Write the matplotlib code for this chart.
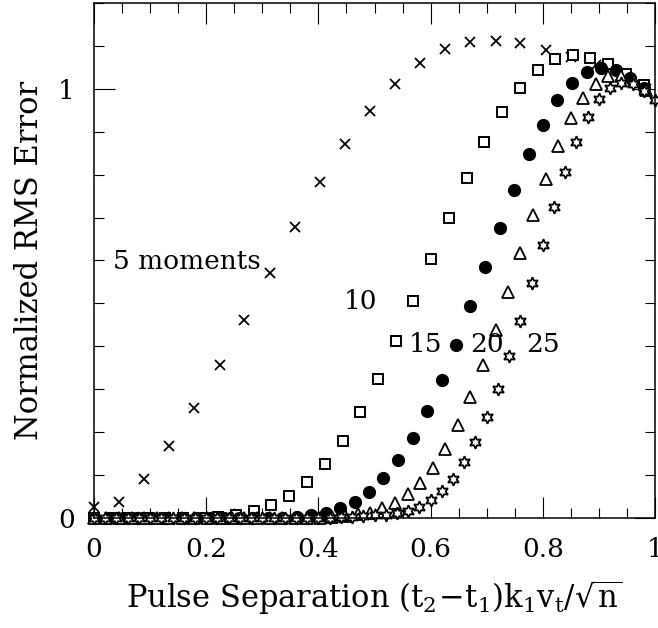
import matplotlib
matplotlib.use("Agg")
import matplotlib.pyplot as plt
from matplotlib.ticker import MultipleLocator

plt.rcParams['font.family'] = ['DejaVu Serif']
plt.rcParams['mathtext.fontset'] = 'dejavuserif'

# ============================
# data
# ============================
# 5 moments (crosses)
x5 = [0.0, 0.045, 0.089, 0.134, 0.179, 0.224, 0.268, 0.313, 0.358, 0.402, 0.447, 0.492,
      0.537, 0.581, 0.626, 0.671, 0.716, 0.760, 0.805, 0.850, 0.894, 0.939, 0.984]
y5 = [0.026, 0.038, 0.091, 0.167, 0.256, 0.356, 0.462, 0.571, 0.678, 0.782, 0.872, 0.949,
      1.012, 1.061, 1.092, 1.108, 1.112, 1.106, 1.090, 1.074, 1.055, 1.030, 1.000]

# 10 moments (open squares)
x10 = [0.0, 0.032, 0.063, 0.095, 0.126, 0.158, 0.190, 0.221, 0.253, 0.285, 0.316, 0.348,
       0.379, 0.411, 0.443, 0.474, 0.506, 0.538, 0.569, 0.601, 0.632, 0.664, 0.696, 0.727,
       0.759, 0.791, 0.822, 0.854, 0.885, 0.917, 0.949, 0.980]
y10 = [0.0, 0.0, 0.0, 0.0, 0.0, 0.0, 0.001, 0.003, 0.006, 0.017, 0.030, 0.052,
       0.084, 0.126, 0.180, 0.247, 0.325, 0.412, 0.506, 0.604, 0.700, 0.792, 0.875, 0.946,
       1.002, 1.044, 1.069, 1.078, 1.073, 1.057, 1.035, 1.009]

# 15 moments (filled circles)
x15 = [0.0, 0.026, 0.052, 0.077, 0.103, 0.129, 0.155, 0.181, 0.207, 0.232, 0.258, 0.284,
       0.310, 0.336, 0.361, 0.387, 0.413, 0.439, 0.465, 0.491, 0.516, 0.542, 0.568, 0.594,
       0.620, 0.646, 0.671, 0.697, 0.723, 0.749, 0.775, 0.800, 0.826, 0.852, 0.878, 0.904,
       0.930, 0.955, 0.981]
y15 = [0.0, 0.0, 0.0, 0.0, 0.0, 0.0, 0.0, 0.0, 0.0, 0.0, 0.0, 0.0,
       0.0, 0.0, 0.003, 0.006, 0.011, 0.023, 0.038, 0.061, 0.093, 0.134, 0.186, 0.250,
       0.322, 0.403, 0.493, 0.584, 0.676, 0.765, 0.848, 0.916, 0.974, 1.013, 1.039, 1.048,
       1.043, 1.026, 1.002]

# 20 moments (open triangles)
x20 = [0.0, 0.022, 0.045, 0.067, 0.089, 0.112, 0.134, 0.157, 0.179, 0.201, 0.224, 0.246,
       0.268, 0.291, 0.313, 0.335, 0.358, 0.380, 0.402, 0.425, 0.447, 0.470, 0.492, 0.514,
       0.537, 0.559, 0.581, 0.604, 0.626, 0.648, 0.671, 0.693, 0.716, 0.738, 0.760, 0.783,
       0.805, 0.827, 0.850, 0.872, 0.894, 0.917, 0.939, 0.962, 0.984]
y20 = [0.0, 0.0, 0.0, 0.0, 0.0, 0.0, 0.0, 0.0, 0.0, 0.0, 0.0, 0.0,
       0.0, 0.0, 0.0, 0.0, 0.0, 0.0, 0.001, 0.003, 0.005, 0.009, 0.012, 0.023,
       0.036, 0.055, 0.081, 0.116, 0.161, 0.216, 0.281, 0.357, 0.439, 0.526, 0.618, 0.707,
       0.790, 0.867, 0.932, 0.979, 1.012, 1.030, 1.030, 1.018, 0.997]

# 25 moments (open six-point stars)
x25 = [0.0, 0.02, 0.04, 0.06, 0.08, 0.10, 0.12, 0.14, 0.16, 0.18, 0.20, 0.22,
       0.24, 0.26, 0.28, 0.30, 0.32, 0.34, 0.36, 0.38, 0.40, 0.42, 0.44, 0.46,
       0.48, 0.50, 0.52, 0.54, 0.56, 0.58, 0.60, 0.62, 0.64, 0.66, 0.68, 0.70,
       0.72, 0.74, 0.76, 0.78, 0.80, 0.82, 0.84, 0.86, 0.88, 0.90, 0.92, 0.94,
       0.96, 0.98, 1.00]
y25 = [0.0, 0.0, 0.0, 0.0, 0.0, 0.0, 0.0, 0.0, 0.0, 0.0, 0.0, 0.0,
       0.0, 0.0, 0.0, 0.0, 0.0, 0.0, 0.0, 0.0, 0.0, 0.001, 0.002, 0.003,
       0.004, 0.006, 0.008, 0.011, 0.016, 0.026, 0.042, 0.063, 0.091, 0.130, 0.176, 0.236,
       0.301, 0.378, 0.460, 0.548, 0.637, 0.724, 0.806, 0.875, 0.934, 0.977, 1.002, 1.014,
       1.012, 0.996, 0.973]

labels = ["5 moments", "10", "15", "20", "25"]

# ============================
# figure
# ============================
fig = plt.figure(figsize=(6.58, 6.28), dpi=100)
ax = fig.add_axes([94 / 658, 1 - 518 / 628, 561 / 658, 515 / 628])

kw = dict(linestyle='none', color='black', clip_on=False)
ax.plot(x5, y5, marker='x', markersize=6.5, markeredgewidth=1.3, **kw)
ax.plot(x10, y10, marker='s', markersize=6.5, markerfacecolor='white', markeredgewidth=1.4, **kw)
ax.plot(x15, y15, marker='o', markersize=8.5, markerfacecolor='black', **kw)
ax.plot(x20, y20, marker='^', markersize=8, markerfacecolor='white', markeredgewidth=1.3, **kw)
ax.plot(x25, y25, marker=(6, 1, 0), markersize=9, markerfacecolor='white', markeredgewidth=1.3, **kw)

fs = 19
ax.text(0.298, 0.597, labels[0], ha='right', va='center', fontsize=fs)
ax.text(0.505, 0.505, labels[1], ha='right', va='center', fontsize=fs)
ax.text(0.620, 0.405, labels[2], ha='right', va='center', fontsize=fs)
ax.text(0.700, 0.405, labels[3], ha='center', va='center', fontsize=fs)
ax.text(0.800, 0.405, labels[4], ha='center', va='center', fontsize=fs)

ax.set_xlim(0, 1)
ax.set_ylim(0, 1.2)
ax.xaxis.set_major_locator(MultipleLocator(0.2))
ax.xaxis.set_minor_locator(MultipleLocator(0.05))
ax.yaxis.set_major_locator(MultipleLocator(1))
ax.yaxis.set_minor_locator(MultipleLocator(0.1))
ax.xaxis.set_major_formatter(plt.FuncFormatter(lambda v, p: f"{v:g}"))
ax.yaxis.set_major_formatter(plt.FuncFormatter(lambda v, p: f"{v:g}"))

ax.tick_params(which='both', direction='in', top=True, right=True, width=0.8, labelsize=fs)
ax.tick_params(which='major', length=15, pad=14)
ax.tick_params(which='minor', length=7.5)
for s in ax.spines.values():
    s.set_linewidth(1.1)

fig.text(374 / 658, 1 - 598 / 628,
         r"Pulse Separation $(\mathrm{t}_2\!-\!\mathrm{t}_1)\mathrm{k}_1\mathrm{v}_\mathrm{t}/\sqrt{\mathrm{n}}$",
         ha='center', va='center', fontsize=22)
fig.text(30 / 658, 1 - 260 / 628, "Normalized RMS Error", rotation=90,
         ha='center', va='center', fontsize=22)

fig.savefig("out.png", dpi=100)
plt.close(fig)
